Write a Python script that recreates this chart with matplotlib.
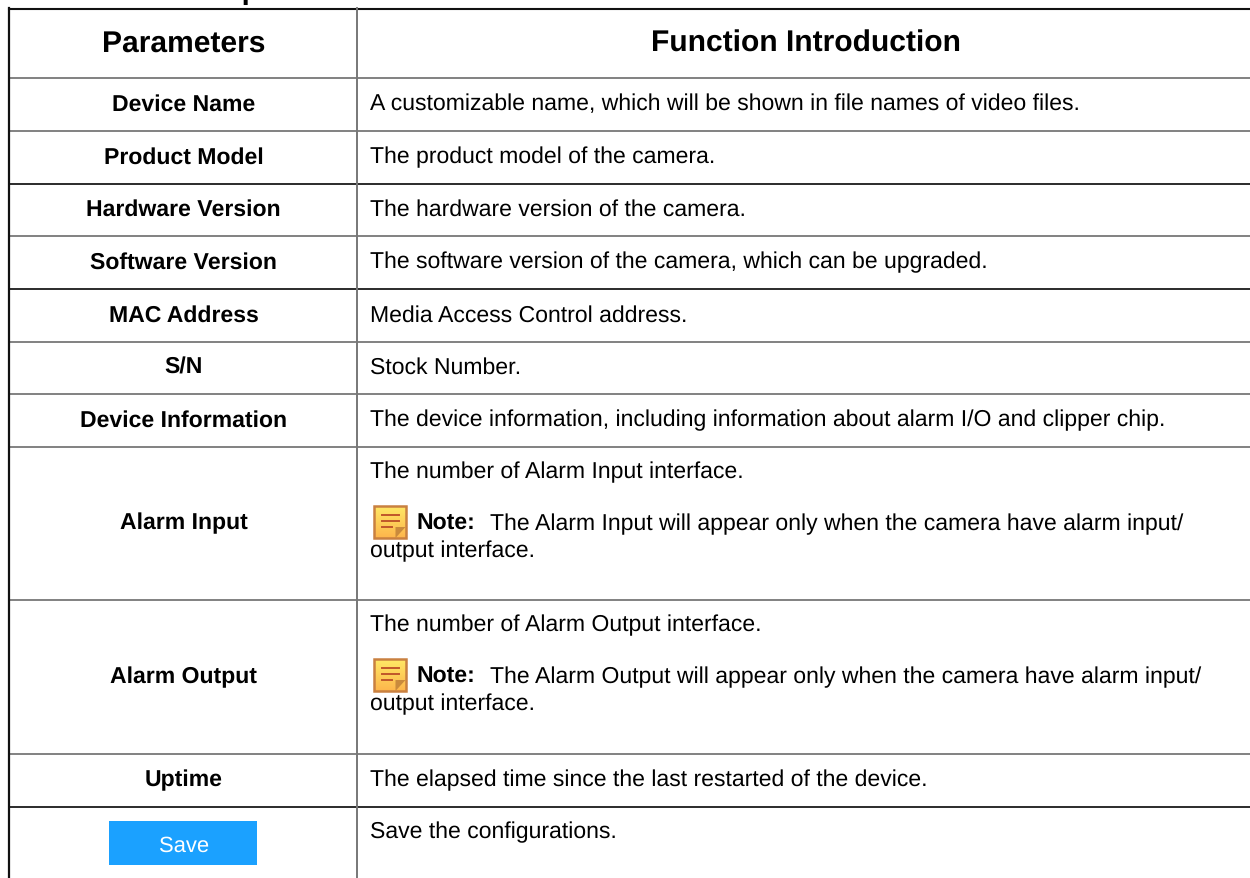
import matplotlib
matplotlib.use("Agg")
import numpy as np
import matplotlib.pyplot as plt
from matplotlib.colors import LinearSegmentedColormap
from matplotlib.patches import Rectangle, Polygon

W, H = 1250, 879
plt.rcParams['font.family'] = ['Liberation Sans', 'DejaVu Sans']
plt.rcParams['text.hinting'] = 'none'
plt.rcParams['text.hinting_factor'] = 1

# ================= TABLE CONTENT =================
title_fragment = "Description"
headers = ["Parameters", "Function Introduction"]
parameters = ["Device Name", "Product Model", "Hardware Version", "Software Version",
              "MAC Address", "S/N", "Device Information", "Alarm Input", "Alarm Output",
              "Uptime"]
descriptions = [
    "A customizable name, which will be shown in file names of video files.",
    "The product model of the camera.",
    "The hardware version of the camera.",
    "The software version of the camera, which can be upgraded.",
    "Media Access Control address.",
    "Stock Number.",
    "The device information, including information about alarm I/O and clipper chip.",
    "The number of Alarm Input interface.",
    "The number of Alarm Output interface.",
    "The elapsed time since the last restarted of the device.",
]
note_texts = {
    7: ["The Alarm Input will appear only when the camera have alarm input/", "output interface."],
    8: ["The Alarm Output will appear only when the camera have alarm input/", "output interface."],
}
save_label = "Save"
save_description = "Save the configurations."
row_lines = [9, 78, 131, 184, 236, 289, 342, 394, 447, 600, 754, 807]
dark_lines = [184, 289, 807]
left_x, col_x = 9, 357
body_size = 16.7

icon_cmap = LinearSegmentedColormap.from_list("note", ["#ffe866", "#fdb64c"])


def note_icon(ax, x, y):
    ax.imshow(np.linspace(0, 1, 32).reshape(-1, 1), cmap=icon_cmap, aspect="auto",
              extent=(x, x + 32, y + 32, y), zorder=2)
    ax.add_patch(Rectangle((x, y), 32, 32, fc="none", ec="#c98040", lw=1.8, zorder=3))
    for yy, ww in [(y + 9, 17), (y + 15, 17), (y + 21, 10)]:
        ax.plot([x + 8, x + 8 + ww], [yy, yy], color="#c0562a", lw=1.4, zorder=3)
    ax.add_patch(Polygon([(x + 22, y + 32), (x + 32, y + 21), (x + 22, y + 21)],
                         fc="#c98a3c", ec="none", zorder=3))


fig = plt.figure(figsize=(W / 100, H / 100), dpi=100)
ax = fig.add_axes([0, 0, 1, 1])
ax.axis("off")

# clipped section heading above the table, only a descender shows
ax.text(233, -1, title_fragment, fontsize=21, fontweight="bold", ha="center", va="baseline")

# ---- grid ----
ax.plot([left_x, W], [row_lines[0] + 0.7] * 2, color="#111111", lw=1.5)
for y in row_lines[1:]:
    dark = y in dark_lines
    ax.plot([left_x, W], [y + 0.7, y + 0.7], color="#1a1a1a" if dark else "#777777", lw=1.3)
ax.plot([left_x, left_x], [row_lines[0], H], color="#111111", lw=1.6)
ax.plot([col_x, col_x], [row_lines[0], H], color="#777777", lw=1.4)

# ---- header ----
ax.text(183.5, 52, headers[0], fontsize=21.7, fontweight="bold", ha="center", va="baseline")
ax.text(805.5, 52, headers[1], fontsize=21.7, fontweight="bold", ha="center", va="baseline")

# ---- rows ----
for i, name in enumerate(parameters):
    top, bottom = row_lines[i + 1], row_lines[i + 2]
    base = (top + bottom) / 2 + 6
    ax.text(183.5, base, name, fontsize=body_size, fontweight="bold", ha="center", va="baseline")
    if i in note_texts:
        ax.text(370, top + 31, descriptions[i], fontsize=body_size, va="baseline")
        note_icon(ax, 373.5, top + 60)
        ax.text(416, top + 83, "Note:", fontsize=body_size, fontweight="bold", va="baseline")
        ax.text(490, top + 83, note_texts[i][0], fontsize=body_size, va="baseline")
        ax.text(370, top + 110, note_texts[i][1], fontsize=body_size, va="baseline")
    else:
        ax.text(370, base, descriptions[i], fontsize=body_size, va="baseline")

# ---- last row, save button ----
ax.add_patch(Rectangle((109, 822), 148, 44, fc="#1ba1ff", ec="none"))
ax.text(184.5, 852, save_label, fontsize=16, color="white", ha="center", va="baseline")
ax.text(370, 838, save_description, fontsize=body_size, va="baseline")

ax.set_xlim(0, W)
ax.set_ylim(H, 0)
fig.savefig("out.png", dpi=100)
